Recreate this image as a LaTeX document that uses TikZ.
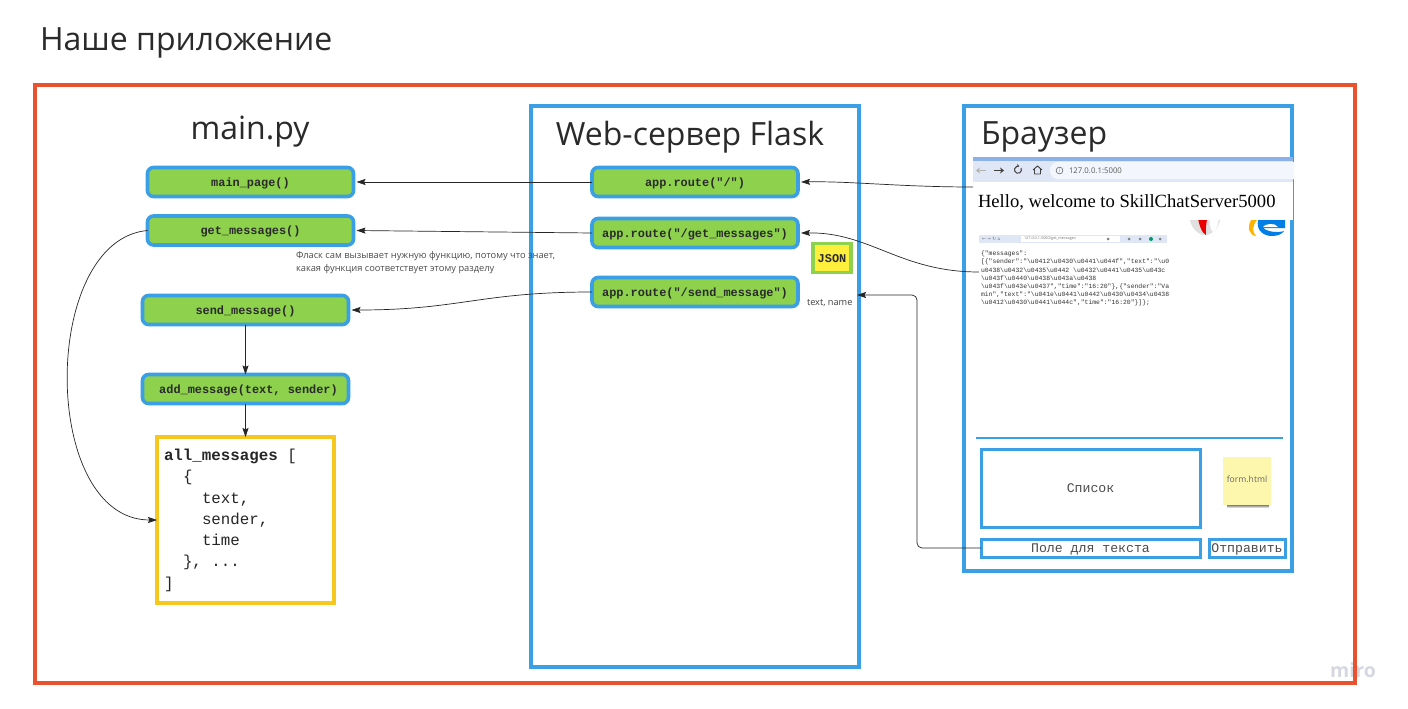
\documentclass[tikz,border=0pt]{standalone}
\usepackage{fontspec}
\setmainfont{Open Sans}
\newfontfamily\codefont{Liberation Mono}
\newfontfamily\serifweb{Liberation Serif}
\newfontfamily\symfont{DejaVu Sans}
\usetikzlibrary{arrows.meta}
\definecolor{frameblue}{HTML}{3B9FE6}
\definecolor{framered}{HTML}{E9522E}
\definecolor{leaf}{HTML}{8DD14C}
\definecolor{inkdark}{HTML}{2A2A2A}
\definecolor{goldline}{HTML}{F5C71F}
\definecolor{noteyellow}{HTML}{FDF7AE}
\definecolor{barlight}{HTML}{DFE7F7}
\definecolor{bartop}{HTML}{8CB0EA}
\definecolor{barpill}{HTML}{F3F6FC}
\definecolor{jsonfill}{HTML}{FFEF3D}
\definecolor{miroink}{HTML}{D5D8E0}
\newcommand{\bs}{\textbackslash}
\tikzset{
  every node/.style={inner sep=0pt,outer sep=0pt,text=inkdark},
  panel/.style={draw=frameblue,line width=3.05,fill=white},
  funcbox/.style={draw=frameblue,line width=3.6,fill=leaf,rounded corners=6,
    minimum width=206,minimum height=29,text height=9,text depth=1,font=\codefont\bfseries\fontsize{11.9}{14}\selectfont},
  uibox/.style={draw=frameblue,line width=3,fill=white,text height=10,text depth=1,font=\codefont\fontsize{13.2}{15}\selectfont,text=black!70},
  heading/.style={font=\fontsize{32}{38}\selectfont},
  wire/.style={draw=black!85,line width=.7,-{Stealth[length=9,width=6,inset=1.5]}},
  tiny/.style={font=\fontsize{9.3}{13}\selectfont,text=black!70},
}
\begin{document}
\begin{tikzpicture}[x=1pt,y=-1pt]
\useasboundingbox (0,0) rectangle (1408,709);
\fill[white] (0,0) rectangle (1408,709);
\node[anchor=west,font=\fontsize{32}{36}\selectfont] (title) at (40,43) {Наше приложение};
\node[font=\fontsize{19.5}{21}\bfseries\selectfont,text=miroink] (miro) at (1353,670) {miro};
\node[draw=framered,line width=3.3,minimum width=1320,minimum height=598] (outer) at (695,384) {};
\node[panel,minimum width=328,minimum height=561] (flask) at (695,386.5) {};
\node[panel,minimum width=328,minimum height=465] (browser) at (1128,338.5) {};
\node[heading] (mainpy) at (250,132) {main.py};
\node[heading] (flasktitle) at (690,137) {Web-сервер Flask};
\node[heading,anchor=west] (browsertitle) at (981,137) {Браузер};
% browser screenshot
\fill[white] (973,157) rectangle (1293,220);
\fill[barlight] (973,157) rectangle (1293,182);
\fill[bartop] (973,157) rectangle (1293,161);
\fill[barpill,rounded corners=8] (1050,162) rectangle (1310,179);
\fill[white] (1293.5,157) rectangle (1312,182);
\draw[black!30,line width=1,-{Stealth[length=4,width=6]}] (986,170.5) -- (976,170.5);
\draw[black!75,line width=1,-{Stealth[length=4,width=6]}] (994,170.5) -- (1004,170.5);
\draw[black!75,line width=1,-{Stealth[length=2.5,width=3.5]}] (1021,168) arc (-30:290:3.5);
\draw[black!75,line width=.9,line join=round] (1033,170) -- (1037.5,166) -- (1042,170) (1034.5,169) -- (1034.5,174) -- (1040.5,174) -- (1040.5,169);
\draw[black!60,line width=.6] (1059.5,170.5) circle (3.4);
\node[font=\fontsize{5}{5}\selectfont,text=black!60] (infoicon) at (1059.5,170.5) {i};
\node[anchor=west,font=\fontsize{7.8}{9}\selectfont,text=black!65] (url) at (1069,170.5) {127.0.0.1:5000};
\node[anchor=west,font=\serifweb\fontsize{18.6}{23}\selectfont,text=black] (hello) at (978,202) {Hello, welcome to SkillChatServer5000};
\begin{scope}
\clip (1180,220) rectangle (1290,240);
\fill[black!12] (1205,213) ellipse (16 and 22);
\fill[red!92!black] (1197,210) .. controls (1198,225) and (1202,233) .. (1206,235) .. controls (1205,228) and (1207,222) .. (1208,210) -- cycle;
\fill[white] (1210,210) .. controls (1209,222) and (1210,230) .. (1213,232) .. controls (1218,228) and (1219,222) .. (1219,210) -- cycle;
\fill[blue!45!cyan!90!black] (1258,220) .. controls (1256,231) and (1264,236) .. (1272,236) .. controls (1278,236) and (1282,234) .. (1284,231) .. controls (1278,233) and (1268,232) .. (1263,228) -- (1285,228) -- (1285,220) -- cycle;
\fill[white] (1263,227) .. controls (1264,224) and (1275,222) .. (1278,227) -- cycle;
\fill[orange!60!yellow] (1251,220) .. controls (1247,228) and (1249,235) .. (1256,236) .. controls (1252,232) and (1252,226) .. (1257,220) -- cycle;
\end{scope}
% mini screenshot
\fill[barlight] (979,235) rectangle (1167,243);
\fill[white] (1021,236) rectangle (1120,242);
\node[anchor=west,font=\fontsize{3.8}{5}\selectfont,text=black!55] (miniurl) at (1024,239) {127.0.0.1:5000/get\_messages};
\node[anchor=west,font=\symfont\fontsize{4.5}{5}\selectfont,text=black!55] (minibar) at (982,239) {← → ↻ ⌂};
\fill[black!50] (1108,239) circle (1.5) (1129,239) circle (1.5) (1140,239) circle (1.5) (1160,239) circle (1.5);
\fill[teal!80!green] (1151,239) circle (2);
\node[anchor=north west,align=left,font=\codefont\fontsize{6.4}{8.2}\selectfont,text=black!80] (mini) at (981,251) {\{"messages":\\
{[}\{"sender":"\bs u0412\bs u0430\bs u0441\bs u044f","text":"\bs u0\\
u0438\bs u0432\bs u0435\bs u0442 \bs u0432\bs u0441\bs u0435\bs u043c\\
\bs u043f\bs u0440\bs u0438\bs u043a\bs u0438\\
\bs u043f\bs u043e\bs u0437","time":"16:20"\},\{"sender":"Va\\
min","text":"\bs u041e\bs u0441\bs u0442\bs u0430\bs u0434\bs u0438\\
\bs u0412\bs u0430\bs u0441\bs u044c","time":"16:20"\}]\};};
% functions
\node[funcbox] (fmain) at (250.5,182) {main\_page()};
\node[funcbox] (fget) at (250.5,230.5) {get\_messages()};
\node[funcbox] (fsend) at (245.5,310) {send\_message()};
\node[funcbox] (fadd) at (245.5,389) {\hspace*{6pt}add\_message(text, sender)};
\node[funcbox] (rroot) at (695,182) {app.route("/")};
\node[funcbox] (rget) at (695,233) {app.route("/get\_messages")};
\node[funcbox] (rsend) at (695,292) {app.route("/send\_message")};
\node[draw=leaf,line width=3.2,fill=jsonfill,minimum width=38,minimum height=29,text height=9,text depth=1,font=\codefont\bfseries\fontsize{11.9}{14}\selectfont] (json) at (832,258) {JSON};
\node[tiny,anchor=north west,align=left] (note) at (296,251.5) {Фласк сам вызывает нужную функцию, потому что знает,\\какая функция соответствует этому разделу};
\node[anchor=west,font=\fontsize{9.2}{11}\selectfont,text=black!75] (tn) at (807,303) {text, name};
\node[draw=goldline,line width=3.4,fill=white,minimum width=177,minimum height=166] (store) at (245.5,520) {};
\node[anchor=north west,align=left,font=\codefont\fontsize{15.8}{21.3}\selectfont,text=black!85] (storetext) at (164,449) {{\bfseries all\_messages} [\\
\hspace*{19pt}\{\\
\hspace*{38pt}text,\\
\hspace*{38pt}sender,\\
\hspace*{38pt}time\\
\hspace*{19pt}\}, ...\\
]};
% form
\draw[frameblue,line width=2] (976,438) -- (1283,438);
\node[uibox,minimum width=219,minimum height=78] (list) at (1090.5,488) {Список};
\node[uibox,minimum width=219,minimum height=18] (field) at (1090.5,548) {Поле для текста};
\node[uibox,minimum width=76,minimum height=18] (submit) at (1247,548) {Отправить};
\shade[top color=black!50,bottom color=white] (1227,505) rectangle (1269,508);
\node[fill=noteyellow,minimum width=48,minimum height=48,text height=6,text depth=4,font=\fontsize{8.6}{10}\selectfont,text=black!60] (sticky) at (1247,481) {form.html};
% connectors
\coordinate (hrefend) at (973,187);
\coordinate (gstart) at (979,272);
\coordinate (rroottip) at ([xshift=3]rroot.east);
\coordinate (rgettip) at ([xshift=3]rget.east);
\coordinate (fmaintip) at ([xshift=3]fmain.east);
\coordinate (fgettip) at ([xshift=3]fget.east);
\coordinate (fsendtip) at ([xshift=3]fsend.east);
\coordinate (tninto) at (857,295);
\draw[wire] (hrefend) .. controls (900,187) and (850,181) .. (rroottip);
\draw[wire] (gstart) .. controls (900,272) and (870,232) .. (rgettip);
\draw[wire] (rroot.west) -- (fmaintip);
\draw[wire] (rget.west) -- (fgettip);
\draw[wire] (rsend.west) .. controls (480,292) and (460,310) .. (fsendtip);
\draw[wire] (fsend.south) -- (fadd.north);
\draw[wire] (fadd.south) -- (store.north);
\draw[wire] (fget.west) .. controls (40,240) and (40,520) .. (store.west);
\draw[wire,rounded corners=5] (field.west) -- (917,548) -- (917,295) -- (tninto);
\end{tikzpicture}
\end{document}
